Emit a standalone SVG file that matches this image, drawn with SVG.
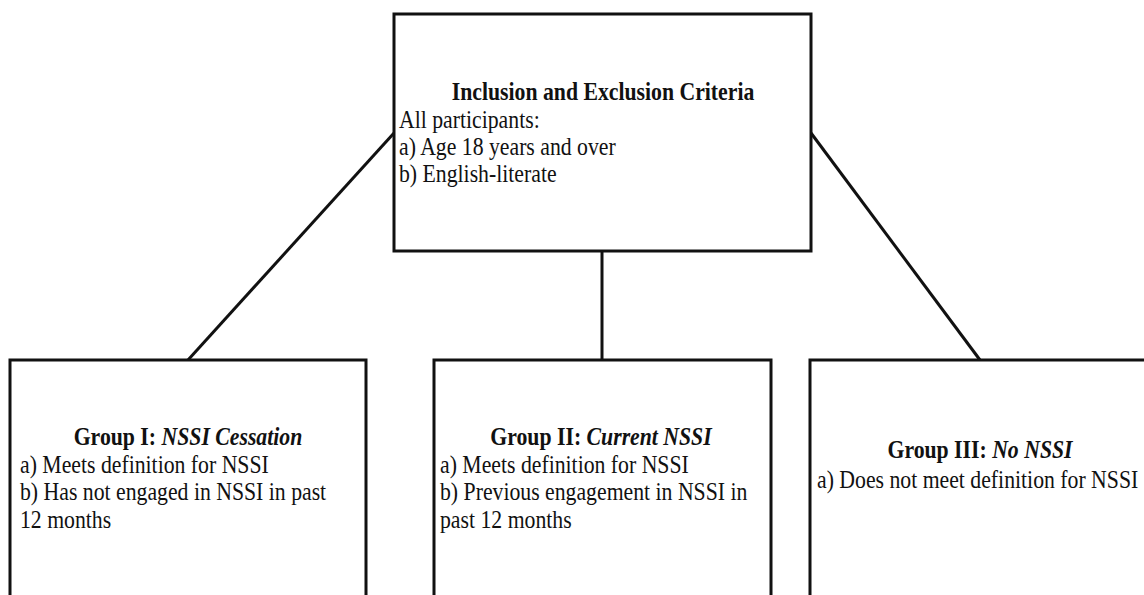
<svg xmlns="http://www.w3.org/2000/svg" width="1144" height="595" viewBox="0 0 1144 595">
<style>
.box{fill:#fff;stroke:#111;stroke-width:3}
.con{stroke:#111;stroke-width:3;fill:none}
text{font-family:"Liberation Serif","Times New Roman",serif;font-size:25px;fill:#111}
.t{font-weight:bold;text-anchor:middle}
.i{font-style:italic}
</style>
<rect width="1144" height="595" fill="#fff"/>
<g id="connectors">
<line class="con" x1="394" y1="133" x2="188" y2="360"/>
<line class="con" x1="602" y1="251" x2="602" y2="360"/>
<line class="con" x1="811" y1="133" x2="980" y2="360"/>
</g>
<g id="criteria">
<rect class="box" x="394" y="14" width="417" height="237"/>
<text class="t" transform="translate(603,100) scale(0.87,1)">Inclusion and Exclusion Criteria</text>
<text transform="translate(399,128) scale(0.87,1)"><tspan x="0" y="0">All participants:</tspan><tspan x="0" y="27">a) Age 18 years and over</tspan><tspan x="0" y="54">b) English-literate</tspan></text>
</g>
<g id="group1">
<rect class="box" x="10" y="360" width="356" height="260"/>
<text class="t" transform="translate(188,445) scale(0.87,1)">Group I: <tspan class="i">NSSI Cessation</tspan></text>
<text transform="translate(20,473) scale(0.87,1)"><tspan x="0" y="0">a) Meets definition for NSSI</tspan><tspan x="0" y="27.5">b) Has not engaged in NSSI in past</tspan><tspan x="0" y="55">12 months</tspan></text>
</g>
<g id="group2">
<rect class="box" x="434" y="360" width="337" height="260"/>
<text class="t" transform="translate(601,445) scale(0.87,1)">Group II: <tspan class="i">Current NSSI</tspan></text>
<text transform="translate(440,473) scale(0.87,1)"><tspan x="0" y="0">a) Meets definition for NSSI</tspan><tspan x="0" y="27.5">b) Previous engagement in NSSI in</tspan><tspan x="0" y="55">past 12 months</tspan></text>
</g>
<g id="group3">
<rect class="box" x="810" y="360" width="400" height="260"/>
<text class="t" transform="translate(980,458) scale(0.87,1)">Group III: <tspan class="i">No NSSI</tspan></text>
<text transform="translate(817,488) scale(0.87,1)">a) Does not meet definition for NSSI</text>
</g>
</svg>
